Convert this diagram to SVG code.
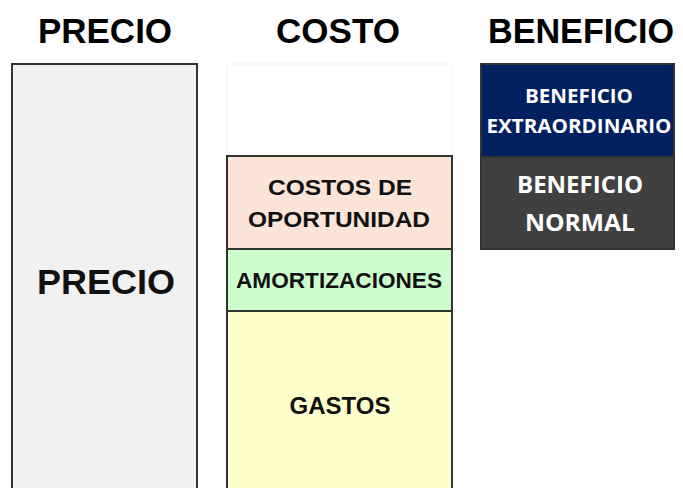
<svg xmlns="http://www.w3.org/2000/svg" width="683" height="488" viewBox="0 0 683 488">
<style>
.h{font-family:"Liberation Sans",Arial,sans-serif;font-weight:bold;font-size:35px;fill:#000;text-anchor:middle}
.t{font-family:"Liberation Sans",Arial,sans-serif;font-weight:bold;font-size:22px;fill:#111;text-anchor:middle}
.w{font-family:"Open Sans","Noto Sans",sans-serif;font-weight:bold;fill:#fff;text-anchor:middle}
.b{stroke:#333;stroke-width:2}
</style>
<rect width="683" height="488" fill="#fff"/>
<g id="headers">
<text class="h" x="105" y="43">PRECIO</text>
<text class="h" x="338" y="43">COSTO</text>
<text class="h" x="581" y="43" textLength="186" lengthAdjust="spacingAndGlyphs">BENEFICIO</text>
</g>
<g id="precio">
<rect class="b" x="12" y="64" width="185" height="430" fill="#f1f1f1"/>
<text class="t" x="106" y="294" style="font-size:35px" textLength="138" lengthAdjust="spacingAndGlyphs">PRECIO</text>
</g>
<g id="costo-vacio">
<rect x="227" y="64" width="225" height="92" fill="#fff" stroke="#f2f2f2" stroke-width="1"/>
</g>
<g id="costos-oportunidad">
<rect class="b" x="227" y="156" width="225" height="93" fill="#fce4d6"/>
<text class="t" x="340" y="195" textLength="144" lengthAdjust="spacingAndGlyphs">COSTOS DE</text>
<text class="t" x="339" y="227" textLength="182" lengthAdjust="spacingAndGlyphs">OPORTUNIDAD</text>
</g>
<g id="amortizaciones">
<rect class="b" x="227" y="249" width="225" height="62" fill="#ccffcc"/>
<text class="t" x="339" y="288" textLength="206" lengthAdjust="spacingAndGlyphs">AMORTIZACIONES</text>
</g>
<g id="gastos">
<rect class="b" x="227" y="311" width="225" height="183" fill="#ffffcc"/>
<text class="t" x="340" y="414" style="font-size:24px">GASTOS</text>
</g>
<g id="beneficio-extraordinario">
<rect class="b" x="481" y="64" width="193" height="93" fill="#002060"/>
<text class="w" x="579" y="103" style="font-size:19px" textLength="108" lengthAdjust="spacingAndGlyphs">BENEFICIO</text>
<text class="w" x="579" y="133" style="font-size:19px" textLength="185" lengthAdjust="spacingAndGlyphs">EXTRAORDINARIO</text>
</g>
<g id="beneficio-normal">
<rect class="b" x="481" y="157" width="193" height="92" fill="#404040"/>
<text class="w" x="580" y="193" style="font-size:23px" textLength="126" lengthAdjust="spacingAndGlyphs">BENEFICIO</text>
<text class="w" x="580" y="231" style="font-size:23px" textLength="110" lengthAdjust="spacingAndGlyphs">NORMAL</text>
</g>
<g id="connectors"/>
</svg>
